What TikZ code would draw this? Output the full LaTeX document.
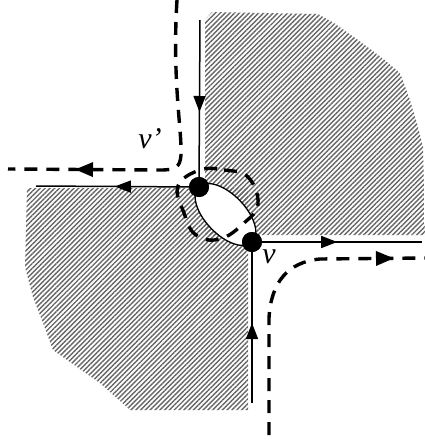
\documentclass[tikz,border=0pt]{standalone}
\usepackage{fontspec}
\setmainfont{Liberation Serif}
\usetikzlibrary{patterns.meta,arrows.meta,decorations.markings}
\begin{document}
\begin{tikzpicture}[x=1pt,y=-1pt,
  hatch/.style={pattern={Lines[angle=45,distance=3.4pt,line width=1.4pt]},pattern color=black!60},
  edge/.style={line width=1.5pt},
  dsh/.style={line width=3.4pt,dash pattern=on 13pt off 9pt},
  dot/.style={circle,fill=black,minimum size=20pt,inner sep=0pt},
  lbl/.style={font=\fontsize{30}{33}\selectfont\itshape,inner sep=0pt},
  arrowat/.style={postaction={decorate},decoration={markings,mark=at position #1 with {\arrow{Triangle[length=16pt,width=12pt]}}}},
  darrowat/.style={postaction={decorate},decoration={markings,mark=at position #1 with {\arrow{Triangle[length=18pt,width=14pt]}}}}
]
\useasboundingbox (0,0) rectangle (425,440);
% hatched regions
\fill[hatch] (212,12) -- (318,14) -- (334,23) -- (358,40) -- (381,57) -- (400,73) -- (410,100) -- (418,127) -- (423,147) -- (425,235) -- (205,235) -- (205,20) -- cycle;
\fill[hatch] (27,188) -- (248,188) -- (248,410) -- (130,410) -- (100,383) -- (77,367) -- (53,350) -- (43,323) -- (33,297) -- (25,267) -- cycle;
% vertices
\coordinate (vpc) at (199,187);
\coordinate (vc) at (252,242);
% white ellipse between vertices
\draw[line width=1.3pt,fill=white,rotate around={-46:(225.5,214.5)}] (225.5,214.5) ellipse [x radius=38.5, y radius=20];
% end coordinates
\coordinate (top) at (200,20);
\coordinate (left) at (36,186);
\coordinate (right) at (422,242);
\coordinate (bottom) at (252,403);
\node[dot] (vp) at (vpc) {};
\node[dot] (v) at (vc) {};
% solid edges
\draw[edge,arrowat=92pt] (top) -- (vp);
\draw[edge,arrowat=74pt] (vp) -- (left);
\draw[edge,arrowat=75pt] (v) -- (right);
\draw[edge,arrowat=80pt] (bottom) -- (v);
% dashed curves
\coordinate (ultop) at (177,0);
\coordinate (ulend) at (8,169);
\draw[dsh,darrowat=-67pt] (ultop) .. controls (172,80) and (182,130) .. (181,155) .. controls (180,168) and (175,170) .. (160,170) -- (ulend);
\coordinate (lrbot) at (269,435);
\coordinate (lrend) at (425,258);
\draw[dsh,darrowat=-31pt] (lrbot) -- (269,318) .. controls (271,282) and (288,262) .. (320,259) -- (lrend);
% dashed loop
\draw[dsh] plot[smooth cycle,tension=0.7] coordinates {(200,170) (224,170) (248,177) (258,204) (244,223) (220,239) (196,235) (184,213) (178,186)};
% redraw vertices on top
\node[dot] at (vpc) {};
\node[dot] at (vc) {};
% labels
\node[lbl] (lvp) at (150,139) {v’};
\node[lbl] (lv) at (269,257) {v};
\end{tikzpicture}
\end{document}
